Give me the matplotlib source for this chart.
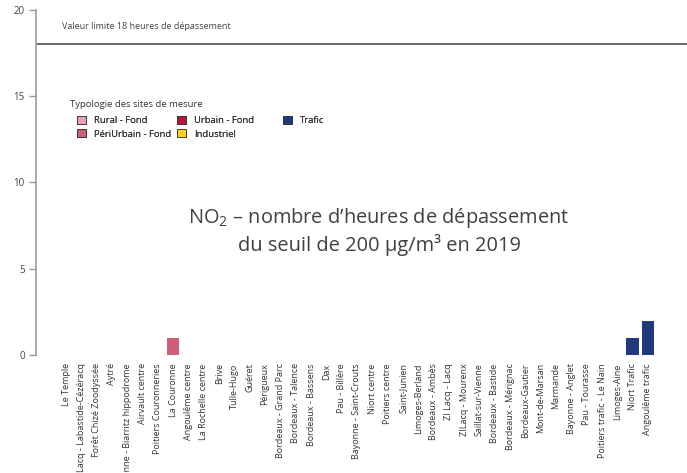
import matplotlib
matplotlib.use("Agg")
import matplotlib.pyplot as plt
from matplotlib.patches import Patch

sites = [
    "Le Temple", "Lacq - Labastide-Cézéracq", "Forêt Chizé Zoodyssée", "Aytré",
    "Bayonne - Biarritz hippodrome", "Airvault centre", "Poitiers Couronneries",
    "La Couronne", "Angoulême centre", "La Rochelle centre", "Brive", "Tulle-Hugo",
    "Guéret", "Périgueux", "Bordeaux - Grand Parc", "Bordeaux - Talence",
    "Bordeaux - Bassens", "Dax", "Pau - Billère", "Bayonne - Saint-Crouts",
    "Niort centre", "Poitiers centre", "Saint-Junien", "Limoges-Berland",
    "Bordeaux - Ambès", "ZI Lacq - Lacq", "ZILacq - Mourenx", "Saillat-sur-Vienne",
    "Bordeaux - Bastide", "Bordeaux - Mérignac", "Bordeaux-Gautier",
    "Mont-de-Marsan", "Marmande", "Bayonne - Anglet", "Pau - Tourasse",
    "Poitiers trafic - Le Nain", "Limoges-Aine", "Niort Trafic", "Angoulême trafic",
]
types = (["Rural - Fond"] * 3 + ["PériUrbain - Fond"] * 5 + ["Urbain - Fond"] * 16
         + ["Industriel"] * 4 + ["Trafic"] * 11)
hours = [0, 0, 0, 0, 0, 0, 0, 1, 0, 0, 0, 0, 0, 0, 0, 0, 0, 0, 0, 0,
         0, 0, 0, 0, 0, 0, 0, 0, 0, 0, 0, 0, 0, 0, 0, 0, 0, 1, 2]
legend_columns = [["Rural - Fond", "PériUrbain - Fond"], ["Urbain - Fond", "Industriel"], ["Trafic"]]
type_colors = {
    "Rural - Fond": "#e8a3b3",
    "PériUrbain - Fond": "#cf5f78",
    "Urbain - Fond": "#b5173c",
    "Industriel": "#ffd21f",
    "Trafic": "#213a7d",
}
limit_value = 18

FONT = ["Open Sans", "DejaVu Sans"]
plt.rcParams["font.family"] = FONT
plt.rcParams["mathtext.fontset"] = "custom"
plt.rcParams["mathtext.rm"] = "Open Sans"
plt.rcParams["mathtext.it"] = "Open Sans:italic"
plt.rcParams["mathtext.bf"] = "Open Sans:bold"

fig = plt.figure(figsize=(6.87, 4.73), dpi=100)
ax = fig.add_axes([36 / 687, 118 / 473, 651 / 687, 345 / 473])

x = list(range(len(sites)))
ax.bar(x, hours, width=0.82, color=[type_colors[t] for t in types], linewidth=0)

ax.set_ylim(0, 20)
ax.set_xlim(-1.96, 40.55)
ax.set_yticks([0, 5, 10, 15, 20])
ax.set_xticks(x)
ax.set_xticklabels(sites, rotation=90, fontsize=6.5, color="#333333")
ax.tick_params(axis="x", length=0, pad=6)
ax.tick_params(axis="y", length=5, width=1, color="#999999", labelsize=7, labelcolor="#444444", pad=3)

for s in ["top", "right", "bottom"]:
    ax.spines[s].set_visible(False)
ax.spines["left"].set_color("#999999")
ax.spines["left"].set_linewidth(1.2)

ax.axhline(limit_value, color="#444444", linewidth=1.1)
ax.text(-0.25, 19.07, "Valeur limite 18 heures de dépassement", fontsize=6.5,
        color="#444444", va="center", ha="left")

fig.text(379 / 687, 1 - 218 / 473, "NO$_\\mathrm{2}$ \u2013 nombre d\u2019heures de dépassement",
         fontsize=14.4, color="#404040", ha="center", va="center")
fig.text(379 / 687, 1 - 245 / 473, "du seuil de 200 µg/m³ en 2019",
         fontsize=14.4, color="#404040", ha="center", va="center")

fig.text(70 / 687, 1 - 104 / 473, "Typologie des sites de mesure", fontsize=6.8,
         color="#333333", ha="left", va="center")
col_x = [77, 177, 283]
for cx, items in zip(col_x, legend_columns):
    handles = [Patch(facecolor=type_colors[t], edgecolor="#333333", linewidth=0.6) for t in items]
    leg = fig.legend(handles, items, loc="upper left",
                     bbox_to_anchor=(cx / 687, 1 - 116 / 473), frameon=False,
                     fontsize=6.8, handlelength=0.9, handleheight=0.9, handletextpad=0.9,
                     labelspacing=0.45, borderpad=0.0, borderaxespad=0.0, labelcolor="#333333")
    fig.add_artist(leg)

fig.savefig("out.png", dpi=100)
